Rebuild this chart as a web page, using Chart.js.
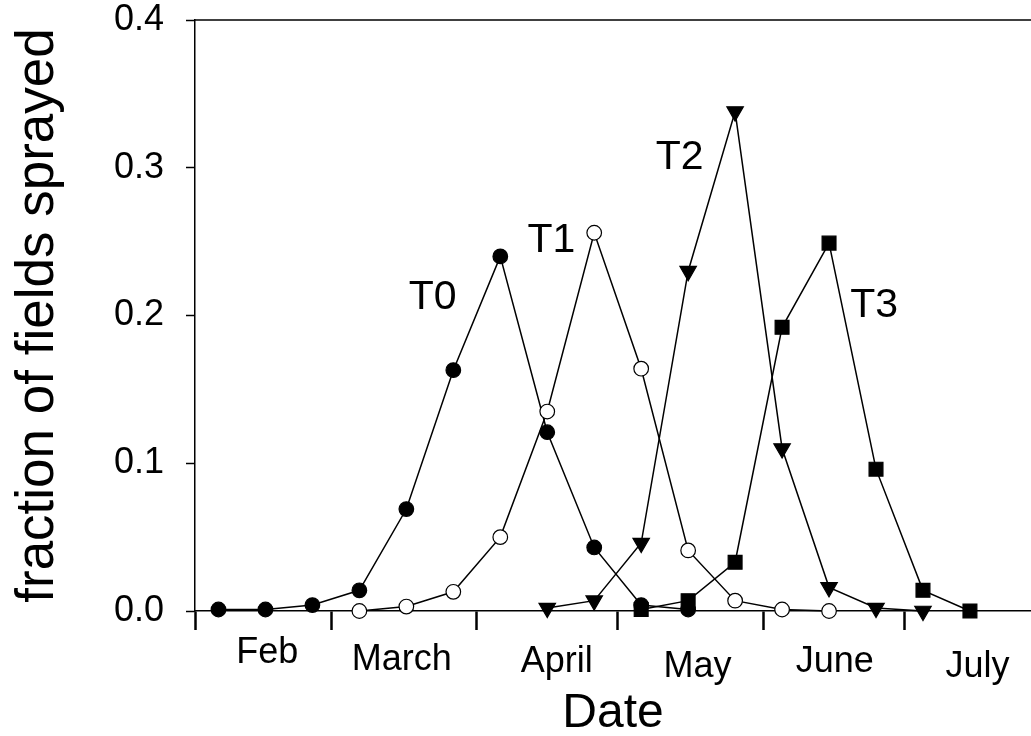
<!DOCTYPE html>
<html>
<head>
<meta charset="utf-8">
<script src="https://cdn.jsdelivr.net/npm/chart.js@4.4.1/dist/chart.umd.min.js"></script>
<style>
  html, body { margin: 0; padding: 0; background: #ffffff; }
  #wrap { width: 1031px; height: 736px; position: relative; }
</style>
</head>
<body>
<div id="wrap"><canvas id="c"></canvas></div>
<script>
const FONT = "'Liberation Sans', Arial, Helvetica, sans-serif";

// x values: days after 1 February (leap year); y values: fraction of fields sprayed
const seriesNames = ['T0', 'T1', 'T2', 'T3'];
const daysT0 = [5, 15, 25, 35, 45, 55, 65, 75, 85, 95, 105];
const valuesT0 = [0.001, 0.001, 0.004, 0.014, 0.069, 0.163, 0.240, 0.121, 0.043, 0.004, 0.001];
const daysT1 = [35, 45, 55, 65, 75, 85, 95, 105, 115, 125, 135];
const valuesT1 = [0.000, 0.003, 0.013, 0.050, 0.135, 0.256, 0.164, 0.041, 0.007, 0.001, 0.000];
const daysT2 = [75, 85, 95, 105, 115, 125, 135, 145, 155];
const valuesT2 = [0.002, 0.007, 0.046, 0.230, 0.338, 0.110, 0.016, 0.002, 0.000];
const daysT3 = [95, 105, 115, 125, 135, 145, 155, 165];
const valuesT3 = [0.001, 0.007, 0.033, 0.192, 0.249, 0.096, 0.014, 0.000];

// axis ticks
const monthNames = ['Feb', 'March', 'April', 'May', 'June', 'July'];
const monthStartDays = [0, 29, 60, 90, 121, 151];
const yTickValues = [0, 0.1, 0.2, 0.3, 0.4];

function toPoints(xs, ys) { return xs.map((x, i) => ({ x: x, y: ys[i] })); }

const lineStyle = {
  borderColor: '#000', borderWidth: 1.5, tension: 0, fill: false, clip: false,
  pointBorderColor: '#000', pointBorderWidth: 1.2, pointHoverRadius: 0
};

const frameAndLabels = {
  id: 'frameAndLabels',
  afterDraw(chart, args, opts) {
    const { ctx, chartArea: ca, scales } = chart;
    const x = scales.x, y = scales.y;
    ctx.save();
    // top frame line
    ctx.strokeStyle = '#000';
    ctx.lineWidth = 1.5;
    ctx.beginPath();
    ctx.moveTo(ca.left, ca.top);
    ctx.lineTo(ca.right, ca.top);
    ctx.stroke();
    ctx.fillStyle = '#000';
    ctx.textAlign = 'center';
    ctx.textBaseline = 'alphabetic';
    // month names between the month tick marks
    ctx.font = '36px ' + FONT;
    monthNames.forEach((m, i) => {
      ctx.fillText(m, x.getPixelForValue(opts.monthLabelAt[i]), ca.bottom + opts.monthLabelDrop[i]);
    });
    // series labels
    ctx.font = '41px ' + FONT;
    seriesNames.forEach((n, i) => {
      const p = opts.seriesLabelAt[i];
      ctx.fillText(n, x.getPixelForValue(p[0]), y.getPixelForValue(p[1]));
    });
    ctx.restore();
  }
};

new Chart(document.getElementById('c'), {
  type: 'line',
  data: {
    datasets: [
      Object.assign({}, lineStyle, { label: seriesNames[0], data: toPoints(daysT0, valuesT0),
        pointStyle: 'circle', pointRadius: 7.3, pointBackgroundColor: '#000', order: 4 }),
      Object.assign({}, lineStyle, { label: seriesNames[1], data: toPoints(daysT1, valuesT1),
        pointStyle: 'circle', pointRadius: 7.3, pointBackgroundColor: '#fff', order: 3 }),
      Object.assign({}, lineStyle, { label: seriesNames[2], data: toPoints(daysT2, valuesT2),
        pointStyle: 'triangle', pointRotation: 180, pointRadius: 9.5, pointBackgroundColor: '#000', order: 2 }),
      Object.assign({}, lineStyle, { label: seriesNames[3], data: toPoints(daysT3, valuesT3),
        pointStyle: 'rect', pointRadius: 9.8, pointBackgroundColor: '#000', order: 1 })
    ]
  },
  options: {
    responsive: true,
    maintainAspectRatio: false,
    animation: false,
    events: [],
    layout: { autoPadding: false, padding: { top: 20, right: 0, bottom: 0, left: 0 } },
    plugins: {
      legend: { display: false },
      tooltip: { enabled: false },
      frameAndLabels: {
        monthLabelAt: [15.4, 44, 77, 107, 136.2, 166.6],
        monthLabelDrop: [52, 59, 61, 66, 61, 66],
        seriesLabelAt: [[50.6, 0.2044], [75.9, 0.2433], [103.2, 0.299], [144.6, 0.1993]]
      }
    },
    scales: {
      x: {
        type: 'linear', position: 'bottom', min: 0, max: 178,
        afterBuildTicks: s => { s.ticks = monthStartDays.map(v => ({ value: v })); },
        afterFit: s => { s.height = 125; s.paddingLeft = 0; s.paddingRight = 0; },
        grid: { display: true, drawOnChartArea: false, drawTicks: true, tickLength: 19, tickWidth: 2.5, tickColor: '#000' },
        border: { display: true, color: '#000', width: 1.5 },
        ticks: { display: false },
        title: { display: true, text: 'Date', color: '#000',
          font: { family: FONT, size: 48, lineHeight: 0.94 }, padding: { top: 0, bottom: 0 } }
      },
      y: {
        type: 'linear', position: 'left', min: 0, max: 0.4,
        afterBuildTicks: s => { s.ticks = yTickValues.map(v => ({ value: v })); },
        afterFit: s => { s.width = 195; s.paddingTop = 0; s.paddingBottom = 0; },
        grid: { display: true, drawOnChartArea: false, drawTicks: true, tickLength: 9, tickWidth: 1.5, tickColor: '#000' },
        border: { display: true, color: '#000', width: 1.5 },
        ticks: { color: '#000', padding: 22, font: { family: FONT, size: 36 },
          callback: v => Number(v).toFixed(1) },
        title: { display: true, text: 'fraction of fields sprayed', color: '#000',
          font: { family: FONT, size: 53, lineHeight: 1.2 }, padding: { top: 7, bottom: 0 } }
      }
    }
  },
  plugins: [frameAndLabels]
});
</script>
</body>
</html>
